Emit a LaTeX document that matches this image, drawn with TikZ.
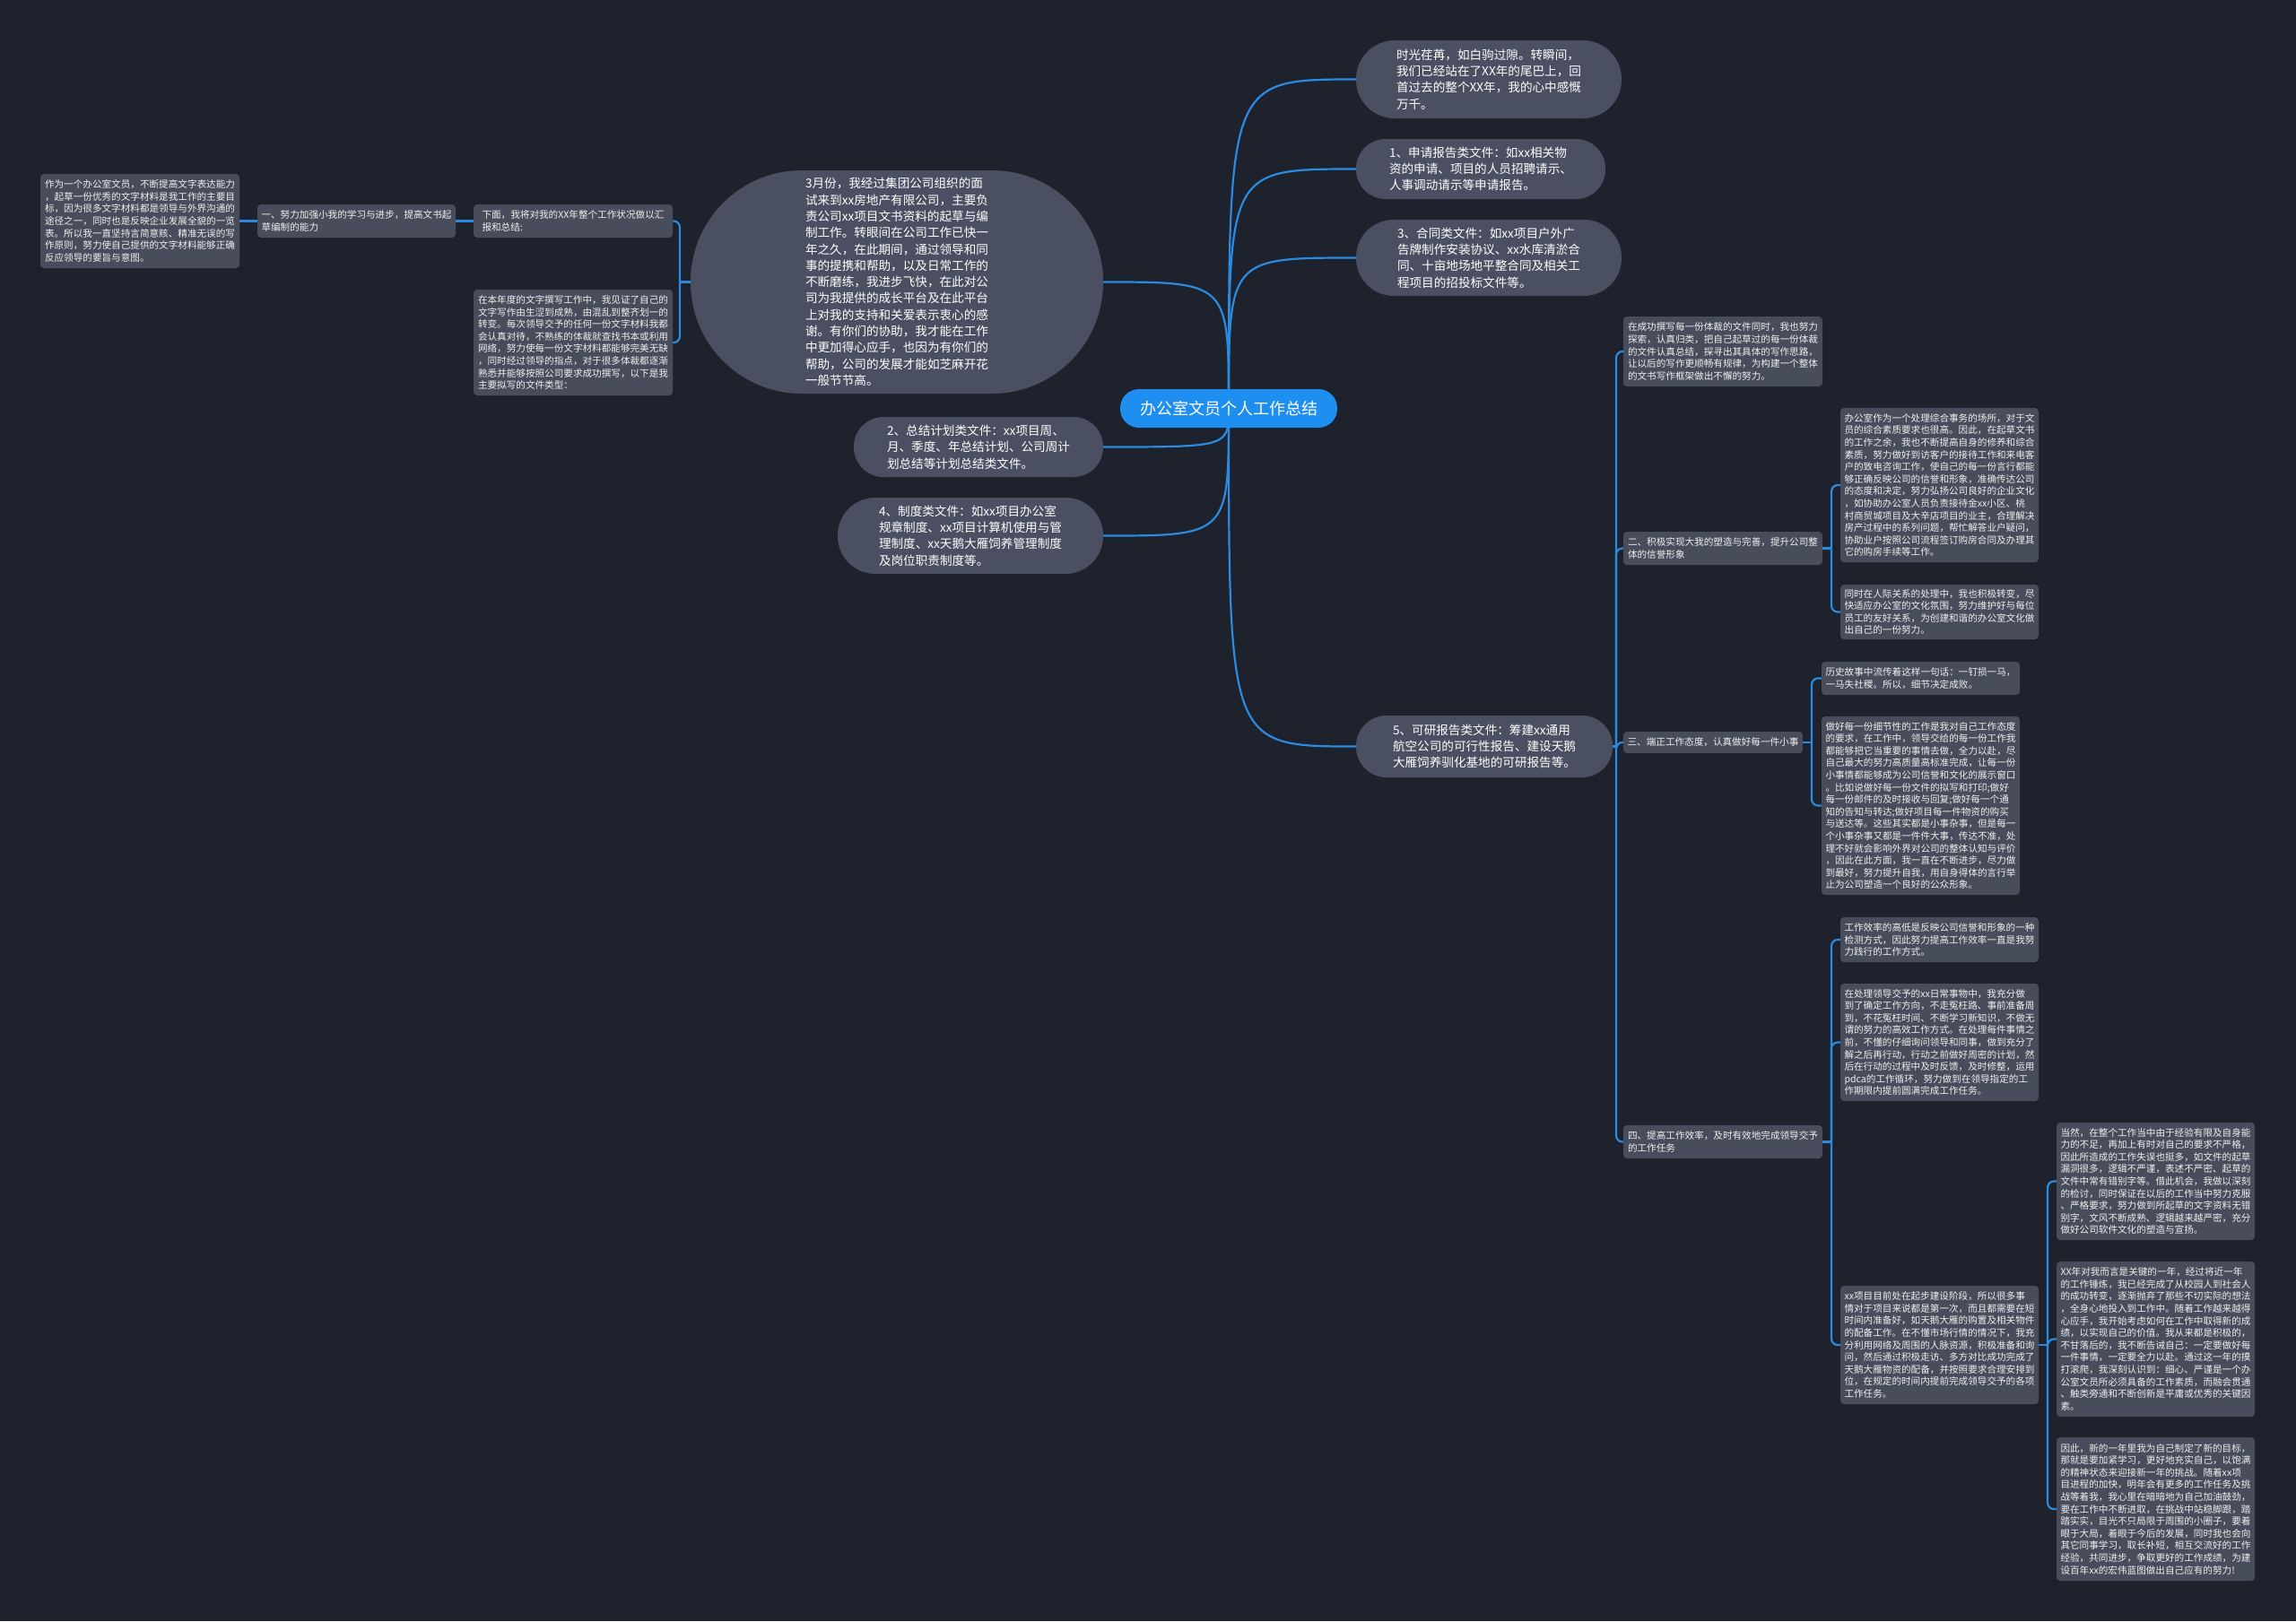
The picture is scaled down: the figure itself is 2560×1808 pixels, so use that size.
\documentclass[tikz,border=0pt]{standalone}
\usepackage{fontspec}
\setmainfont{Noto Sans CJK SC}
\usetikzlibrary{calc}
\pgfdeclarelayer{back}
\pgfdeclarelayer{lines}
\pgfsetlayers{back,lines,main}
\definecolor{bgc}{HTML}{1E222D}
\definecolor{pillc}{HTML}{4A5062}
\definecolor{leafc}{HTML}{474D5B}
\definecolor{rootc}{HTML}{1F8EF1}
\definecolor{edgec}{HTML}{2A8BE0}
\begin{document}
\begin{tikzpicture}[x=1pt,y=-1pt,
  every node/.style={inner sep=0pt, outer sep=0pt, align=left, text=white},
  rootbox/.style={fill=rootc, font=\fontsize{18}{22}\selectfont, rounded corners=21pt, minimum width=242pt, minimum height=43pt},
  pl/.style n args={3}{fill=pillc, font=\fontsize{13.6}{18.3}\selectfont, minimum width=#1, minimum height=#2, rounded corners=#3},
  lf/.style 2 args={fill=leafc, rounded corners=4pt, font=\fontsize{10.6}{13.6}\selectfont, text=white!94!black, minimum width=#1, minimum height=#2},
  edge/.style={draw=edgec, line width=2.2pt},
  brk/.style={draw=edgec, line width=2.2pt, rounded corners=7pt},
]
\useasboundingbox (0,0) rectangle (2560,1808);
\begin{pgfonlayer}{back}
\fill[bgc] (0,0) rectangle (2560,1808);
\end{pgfonlayer}

% root
\node[rootbox] (root) at (1370,455.5) {办公室文员个人工作总结};

% level 1
\node[pl={296pt}{87pt}{43pt}] (A) at (1660,88.5) {时光荏苒，如白驹过隙。转瞬间，\\我们已经站在了XX年的尾巴上，回\\首过去的整个XX年，我的心中感慨\\万千。};
\node[pl={278pt}{67pt}{33pt}] (B) at (1651,188.5) {1、申请报告类文件：如xx相关物\\资的申请、项目的人员招聘请示、\\人事调动请示等申请报告。};
\node[pl={296pt}{85pt}{42pt}] (C) at (1660,287.5) {3、合同类文件：如xx项目户外广\\告牌制作安装协议、xx水库清淤合\\同、十亩地场地平整合同及相关工\\程项目的招投标文件等。};
\node[pl={460pt}{249pt}{124pt}] (D) at (1000,314.5) {3月份，我经过集团公司组织的面\\试来到xx房地产有限公司，主要负\\责公司xx项目文书资料的起草与编\\制工作。转眼间在公司工作已快一\\年之久，在此期间，通过领导和同\\事的提携和帮助，以及日常工作的\\不断磨练，我进步飞快，在此对公\\司为我提供的成长平台及在此平台\\上对我的支持和关爱表示衷心的感\\谢。有你们的协助，我才能在工作\\中更加得心应手，也因为有你们的\\帮助，公司的发展才能如芝麻开花\\一般节节高。};
\node[pl={278pt}{67pt}{33pt}] (E) at (1091,498.5) {2、总结计划类文件：xx项目周、\\月、季度、年总结计划、公司周计\\划总结等计划总结类文件。};
\node[pl={296pt}{85pt}{42pt}] (F) at (1082,597.5) {4、制度类文件：如xx项目办公室\\规章制度、xx项目计算机使用与管\\理制度、xx天鹅大雁饲养管理制度\\及岗位职责制度等。};
\node[pl={286pt}{69pt}{34pt}] (G) at (1655,832.5) {5、可研报告类文件：筹建xx通用\\航空公司的可行性报告、建设天鹅\\大雁饲养驯化基地的可研报告等。};

% left branch
\node[lf={222pt}{37pt}] (H) at (639,246.5) {下面，我将对我的XX年整个工作状况做以汇\\报和总结:};
\node[lf={222pt}{118pt}] (I) at (639,382) {在本年度的文字撰写工作中，我见证了自己的\\文字写作由生涩到成熟，由混乱到整齐划一的\\转变。每次领导交予的任何一份文字材料我都\\会认真对待，不熟练的体裁就查找书本或利用\\网络，努力使每一份文字材料都能够完美无缺\\，同时经过领导的指点，对于很多体裁都逐渐\\熟悉并能够按照公司要求成功撰写，以下是我\\主要拟写的文件类型：};
\node[lf={221pt}{37pt}] (J) at (397.5,246.5) {一、努力加强小我的学习与进步，提高文书起\\草编制的能力};
\node[lf={222pt}{105pt}] (K) at (156,246.5) {作为一个办公室文员，不断提高文字表达能力\\，起草一份优秀的文字材料是我工作的主要目\\标，因为很多文字材料都是领导与外界沟通的\\途径之一，同时也是反映企业发展全貌的一览\\表。所以我一直坚持言简意赅、精准无误的写\\作原则，努力使自己提供的文字材料能够正确\\反应领导的要旨与意图。};

% right branch
\node[lf={222pt}{78pt}] (L) at (1921,392) {在成功撰写每一份体裁的文件同时，我也努力\\探索，认真归类，把自己起草过的每一份体裁\\的文件认真总结，探寻出其具体的写作思路，\\让以后的写作更顺畅有规律，为构建一个整体\\的文书写作框架做出不懈的努力。};
\node[lf={222pt}{37pt}] (M) at (1921,611.5) {二、积极实现大我的塑造与完善，提升公司整\\体的信誉形象};
\node[lf={221pt}{172pt}] (N1) at (2162.5,541) {办公室作为一个处理综合事务的场所，对于文\\员的综合素质要求也很高。因此，在起草文书\\的工作之余，我也不断提高自身的修养和综合\\素质，努力做好到访客户的接待工作和来电客\\户的致电咨询工作，使自己的每一份言行都能\\够正确反映公司的信誉和形象，准确传达公司\\的态度和决定，努力弘扬公司良好的企业文化\\，如协助办公室人员负责接待金xx小区、桃\\村商贸城项目及大辛店项目的业主，合理解决\\房产过程中的系列问题，帮忙解答业户疑问，\\协助业户按照公司流程签订购房合同及办理其\\它的购房手续等工作。};
\node[lf={221pt}{61pt}] (N2) at (2162.5,682.5) {同时在人际关系的处理中，我也积极转变，尽\\快适应办公室的文化氛围，努力维护好与每位\\员工的友好关系，为创建和谐的办公室文化做\\出自己的一份努力。};
\node[lf={200pt}{24pt}] (O) at (1910,828) {三、端正工作态度，认真做好每一件小事};
\node[lf={221pt}{37pt}] (P1) at (2141.5,756.5) {历史故事中流传着这样一句话：一钉损一马，\\一马失社稷。所以，细节决定成败。};
\node[lf={221pt}{199pt}] (P2) at (2141.5,898.5) {做好每一份细节性的工作是我对自己工作态度\\的要求，在工作中，领导交给的每一份工作我\\都能够把它当重要的事情去做，全力以赴，尽\\自己最大的努力高质量高标准完成，让每一份\\小事情都能够成为公司信誉和文化的展示窗口\\。比如说做好每一份文件的拟写和打印;做好\\每一份邮件的及时接收与回复;做好每一个通\\知的告知与转达;做好项目每一件物资的购买\\与送达等。这些其实都是小事杂事，但是每一\\个小事杂事又都是一件件大事，传达不准，处\\理不好就会影响外界对公司的整体认知与评价\\，因此在此方面，我一直在不断进步，尽力做\\到最好，努力提升自我，用自身得体的言行举\\止为公司塑造一个良好的公众形象。};
\node[lf={222pt}{37pt}] (Q) at (1921,1273.5) {四、提高工作效率，及时有效地完成领导交予\\的工作任务};
\node[lf={221pt}{50pt}] (R1) at (2162.5,1048) {工作效率的高低是反映公司信誉和形象的一种\\检测方式，因此努力提高工作效率一直是我努\\力践行的工作方式。};
\node[lf={221pt}{131pt}] (R2) at (2162.5,1162.5) {在处理领导交予的xx日常事物中，我充分做\\到了确定工作方向，不走冤枉路、事前准备周\\到，不花冤枉时间、不断学习新知识，不做无\\谓的努力的高效工作方式。在处理每件事情之\\前，不懂的仔细询问领导和同事，做到充分了\\解之后再行动，行动之前做好周密的计划，然\\后在行动的过程中及时反馈，及时修整，运用\\pdca的工作循环，努力做到在领导指定的工\\作期限内提前圆满完成工作任务。};
\node[lf={221pt}{132pt}] (R3) at (2162.5,1500) {xx项目目前处在起步建设阶段，所以很多事\\情对于项目来说都是第一次，而且都需要在短\\时间内准备好，如天鹅大雁的购置及相关物件\\的配备工作。在不懂市场行情的情况下，我充\\分利用网络及周围的人脉资源，积极准备和询\\问，然后通过积极走访、多方对比成功完成了\\天鹅大雁物资的配备，并按照要求合理安排到\\位，在规定的时间内提前完成领导交予的各项\\工作任务。};
\node[lf={221pt}{131pt}] (S1) at (2403.5,1317.5) {当然，在整个工作当中由于经验有限及自身能\\力的不足，再加上有时对自己的要求不严格，\\因此所造成的工作失误也挺多，如文件的起草\\漏洞很多，逻辑不严谨，表述不严密、起草的\\文件中常有错别字等。借此机会，我做以深刻\\的检讨，同时保证在以后的工作当中努力克服\\、严格要求，努力做到所起草的文字资料无错\\别字，文风不断成熟、逻辑越来越严密，充分\\做好公司软件文化的塑造与宣扬。};
\node[lf={221pt}{173pt}] (S2) at (2403.5,1493.5) {XX年对我而言是关键的一年，经过将近一年\\的工作锤炼，我已经完成了从校园人到社会人\\的成功转变，逐渐抛弃了那些不切实际的想法\\，全身心地投入到工作中。随着工作越来越得\\心应手，我开始考虑如何在工作中取得新的成\\绩，以实现自己的价值。我从来都是积极的，\\不甘落后的，我不断告诫自己：一定要做好每\\一件事情，一定要全力以赴。通过这一年的摸\\打滚爬，我深刻认识到：细心、严谨是一个办\\公室文员所必须具备的工作素质，而融会贯通\\、触类旁通和不断创新是平庸或优秀的关键因\\素。};
\node[lf={221pt}{160pt}] (S3) at (2403.5,1683) {因此，新的一年里我为自己制定了新的目标，\\那就是要加紧学习，更好地充实自己，以饱满\\的精神状态来迎接新一年的挑战。随着xx项\\目进程的加快，明年会有更多的工作任务及挑\\战等着我，我心里在暗暗地为自己加油鼓劲，\\要在工作中不断进取，在挑战中站稳脚跟，踏\\踏实实，目光不只局限于周围的小圈子，要着\\眼于大局，着眼于今后的发展，同时我也会向\\其它同事学习，取长补短，相互交流好的工作\\经验，共同进步，争取更好的工作成绩，为建\\设百年xx的宏伟蓝图做出自己应有的努力!};

% bracket junctions
\coordinate (bD) at ($(D.west)+(-12,0)$);
\coordinate (bG) at ($(G.east)+(4,0)$);
\coordinate (bM) at ($(M.east)+(10,0)$);
\coordinate (bO) at ($(O.east)+(10,0)$);
\coordinate (bQ) at ($(Q.east)+(10,0)$);
\coordinate (bR) at ($(R3.east)+(10,0)$);

\begin{pgfonlayer}{lines}
% root connectors
\draw[edge] (root.center) .. controls (root.center |- A.west) .. (A.west);
\draw[edge] (root.center) .. controls (root.center |- B.west) .. (B.west);
\draw[edge] (root.center) .. controls (root.center |- C.west) .. (C.west);
\draw[edge] (root.center) .. controls (root.center |- G.west) .. (G.west);
\draw[edge] (root.center) .. controls (root.center |- D.east) .. (D.east);
\draw[edge] (root.center) .. controls (root.center |- E.east) .. (E.east);
\draw[edge] (root.center) .. controls (root.center |- F.east) .. (F.east);
% left branch
\draw[edge] (D.west) -- (bD);
\draw[brk] (bD) |- (H.east);
\draw[brk] (bD) |- (I.east);
\draw[edge] (H.west) -- (J.east);
\draw[edge] (J.west) -- (K.east);
% right branch
\draw[edge] (G.east) -- (bG);
\draw[brk] (bG) |- (L.west);
\draw[brk] (bG) |- (M.west);
\draw[brk] (bG) |- (O.west);
\draw[brk] (bG) |- (Q.west);
\draw[edge] (M.east) -- (bM);
\draw[brk] (bM) |- (N1.west);
\draw[brk] (bM) |- (N2.west);
\draw[edge] (O.east) -- (bO);
\draw[brk] (bO) |- (P1.west);
\draw[brk] (bO) |- (P2.west);
\draw[edge] (Q.east) -- (bQ);
\draw[brk] (bQ) |- (R1.west);
\draw[brk] (bQ) |- (R2.west);
\draw[brk] (bQ) |- (R3.west);
\draw[edge] (R3.east) -- (bR);
\draw[brk] (bR) |- (S1.west);
\draw[brk] (bR) |- (S2.west);
\draw[brk] (bR) |- (S3.west);
\end{pgfonlayer}
\end{tikzpicture}
\end{document}
